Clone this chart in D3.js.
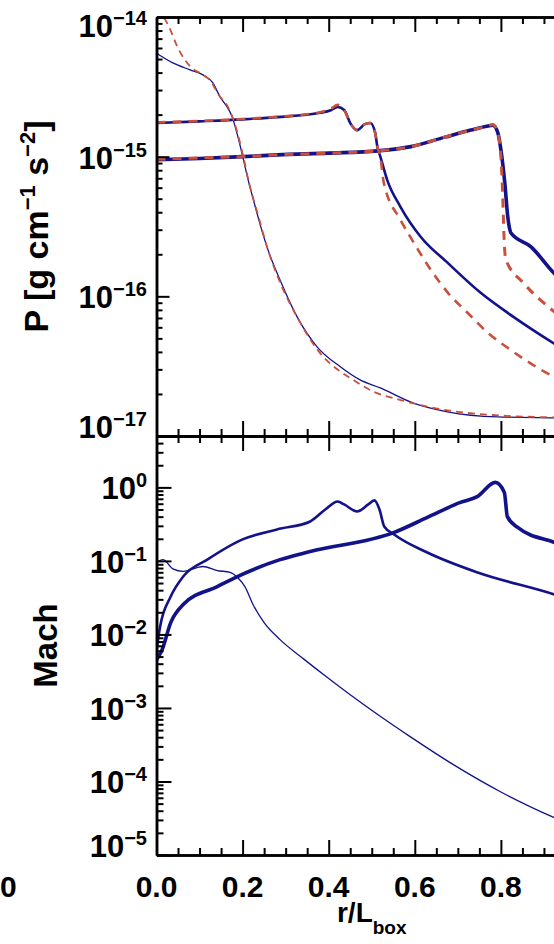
<!DOCTYPE html>
<html>
<head>
<meta charset="utf-8">
<script src="https://cdn.jsdelivr.net/npm/d3@7"></script>
<style>
  html, body { margin: 0; padding: 0; background: #fff; }
  svg { display: block; }
  text { font-family: "Liberation Sans", Arial, Helvetica, sans-serif; font-weight: bold; fill: #000; }
</style>
</head>
<body>
<svg id="chart" width="554" height="944"></svg>
<script>
// ---------------- data ----------------
// radial coordinate ticks
const xTicks = [0.0, 0.2, 0.4, 0.6, 0.8, 1.0];
const xTickLabels = ["0.0", "0.2", "0.4", "0.6", "0.8", "1.0"];
// decade exponents labelled on each panel
const pressureDecades = [-14, -15, -16, -17];
const machDecades = [0, -1, -2, -3, -4, -5];

// Pressure [g cm^-1 s^-2] — earliest snapshot (thin line)
const rP1 = [0.0, 0.038, 0.078, 0.108, 0.131, 0.148, 0.164, 0.176, 0.185, 0.194, 0.203, 0.213, 0.227, 0.241, 0.259, 0.287, 0.327, 0.373, 0.427, 0.473, 0.520, 0.597, 0.676, 0.792, 0.922, 1.0];
const pSim1 = [5.5e-15, 4.69e-15, 4.18e-15, 3.85e-15, 3.37e-15, 2.67e-15, 2.27e-15, 1.92e-15, 1.55e-15, 1.21e-15, 9.2e-16, 6.8e-16, 4.67e-16, 3.25e-16, 2.15e-16, 1.31e-16, 7.1e-17, 4.35e-17, 3.13e-17, 2.52e-17, 2.21e-17, 1.72e-17, 1.49e-17, 1.37e-17, 1.35e-17, 1.34e-17];
const rP1m = [0.0, 0.026, 0.051, 0.079, 0.105, 0.125, 0.145, 0.165, 0.185, 0.200, 0.215, 0.235, 0.260, 0.290, 0.330, 0.375, 0.430, 0.450, 0.505, 0.567, 0.630, 0.700, 0.800, 0.920, 1.0];
const pModel1 = [1.15e-14, 8.9e-15, 5.9e-15, 4.4e-15, 3.9e-15, 3.5e-15, 2.75e-15, 2.3e-15, 1.6e-15, 1.05e-15, 6.5e-16, 3.9e-16, 2.1e-16, 1.2e-16, 6.8e-17, 4.1e-17, 2.85e-17, 2.6e-17, 2.07e-17, 1.81e-17, 1.62e-17, 1.49e-17, 1.4e-17, 1.36e-17, 1.35e-17];

// Pressure — intermediate snapshot (medium line)
const rP2 = [0.0, 0.10, 0.20, 0.28, 0.38, 0.405, 0.421, 0.436, 0.450, 0.466, 0.484, 0.497, 0.508, 0.513, 0.520, 0.536, 0.567, 0.614, 0.677, 0.753, 0.830, 0.923, 1.0];
const pSim2 = [1.74e-15, 1.79e-15, 1.85e-15, 1.92e-15, 2.06e-15, 2.15e-15, 2.27e-15, 2.16e-15, 1.74e-15, 1.55e-15, 1.71e-15, 1.74e-15, 1.48e-15, 1.18e-15, 1.0e-15, 6.8e-16, 4.36e-16, 2.66e-16, 1.73e-16, 1.06e-16, 7.1e-17, 4.6e-17, 3.3e-17];
const rP2m = [0.0, 0.10, 0.20, 0.28, 0.38, 0.405, 0.421, 0.436, 0.450, 0.466, 0.484, 0.497, 0.508, 0.513, 0.520, 0.528, 0.567, 0.598, 0.637, 0.677, 0.723, 0.770, 0.823, 0.886, 1.0];
const pModel2 = [1.76e-15, 1.8e-15, 1.86e-15, 1.93e-15, 2.08e-15, 2.2e-15, 2.35e-15, 2.16e-15, 1.74e-15, 1.55e-15, 1.71e-15, 1.74e-15, 1.48e-15, 1.18e-15, 1.0e-15, 6.5e-16, 3.52e-16, 2.41e-16, 1.55e-16, 1.06e-16, 7.6e-17, 5.47e-17, 4.13e-17, 3.07e-17, 2.1e-17];

// Pressure — latest snapshot (thick line)
const rP3 = [0.0, 0.10, 0.20, 0.281, 0.40, 0.514, 0.591, 0.670, 0.730, 0.770, 0.781, 0.793, 0.800, 0.809, 0.816, 0.821, 0.823, 0.870, 0.923, 1.0];
const pSim3 = [9.5e-16, 9.7e-16, 1.0e-15, 1.03e-15, 1.06e-15, 1.1e-15, 1.18e-15, 1.38e-15, 1.55e-15, 1.66e-15, 1.68e-15, 1.48e-15, 1.12e-15, 6.5e-16, 3.7e-16, 2.98e-16, 2.85e-16, 2.26e-16, 1.47e-16, 9.3e-17];
const rP3m = [0.0, 0.10, 0.20, 0.281, 0.40, 0.514, 0.591, 0.670, 0.730, 0.770, 0.781, 0.793, 0.799, 0.804, 0.807, 0.811, 0.852, 0.899, 1.0];
const pModel3 = [9.6e-16, 9.8e-16, 1.0e-15, 1.03e-15, 1.06e-15, 1.1e-15, 1.18e-15, 1.38e-15, 1.55e-15, 1.66e-15, 1.7e-15, 1.48e-15, 1.1e-15, 5.5e-16, 2.8e-16, 1.85e-16, 1.25e-16, 9.0e-17, 5.4e-17];

// Mach number — the three snapshots
const rM1 = [0.0, 0.015, 0.038, 0.062, 0.108, 0.141, 0.171, 0.190, 0.205, 0.225, 0.250, 0.287, 0.343, 0.400, 0.450, 0.513, 0.590, 0.683, 0.800, 0.925, 1.0];
const mach1 = [0.095, 0.104, 0.078, 0.072, 0.084, 0.074, 0.070, 0.058, 0.045, 0.025, 0.0145, 0.0085, 0.00458, 0.00251, 0.00151, 8.2e-4, 4.04e-4, 1.79e-4, 7.2e-5, 3.2e-5, 2.1e-5];
const rM2 = [0.0, 0.008, 0.033, 0.062, 0.118, 0.200, 0.280, 0.357, 0.392, 0.421, 0.436, 0.466, 0.492, 0.506, 0.518, 0.529, 0.552, 0.629, 0.746, 0.925, 1.0];
const mach2 = [0.006, 0.0124, 0.0327, 0.0613, 0.104, 0.196, 0.268, 0.344, 0.50, 0.644, 0.586, 0.471, 0.586, 0.665, 0.50, 0.294, 0.229, 0.130, 0.0695, 0.0348, 0.0245];
const rM3 = [0.0, 0.013, 0.033, 0.062, 0.141, 0.183, 0.287, 0.357, 0.552, 0.629, 0.706, 0.745, 0.787, 0.808, 0.815, 0.839, 0.925, 1.0];
const mach3 = [0.0045, 0.0062, 0.0145, 0.0255, 0.0448, 0.0594, 0.104, 0.134, 0.244, 0.39, 0.625, 0.75, 1.17, 0.855, 0.40, 0.285, 0.178, 0.125];

// ---------------- layout ----------------
const X0 = 156.5, X1 = 587;
const TOP = 17, MID = 436, BOT = 855;
const W = 554;
const BLUE = "#12128a", RED = "#c9503c";

const svg = d3.select("#chart");
const x = d3.scaleLinear().domain([0, 1]).range([X0, X1]);
const yP = d3.scaleLog().domain([1e-17, 1e-14]).range([MID, TOP]);
const yM = d3.scaleLog().domain([1e-5, 5]).range([BOT, MID]);

const defs = svg.append("defs");
defs.append("clipPath").attr("id", "clipP")
  .append("rect").attr("x", X0).attr("y", TOP).attr("width", X1 - X0).attr("height", MID - TOP);
defs.append("clipPath").attr("id", "clipM")
  .append("rect").attr("x", X0).attr("y", MID).attr("width", X1 - X0).attr("height", BOT - MID);

// ---------------- curves ----------------
const pressureLines = [
  { r: rP1, v: pSim1, color: BLUE, w: 1.3 },
  { r: rP2, v: pSim2, color: BLUE, w: 2.6 },
  { r: rP3, v: pSim3, color: BLUE, w: 3.6 },
  { r: rP1m, v: pModel1, color: RED, w: 1.8, dash: "7,5" },
  { r: rP2m, v: pModel2, color: RED, w: 2.6, dash: "9,7" },
  { r: rP3m, v: pModel3, color: RED, w: 3.0, dash: "9,7" }
];
const machLines = [
  { r: rM1, v: mach1, color: BLUE, w: 1.3 },
  { r: rM2, v: mach2, color: BLUE, w: 2.6 },
  { r: rM3, v: mach3, color: BLUE, w: 3.6 }
];

function drawLines(lines, yScale, clipId) {
  const g = svg.append("g").attr("clip-path", `url(#${clipId})`);
  const gen = d3.line().x(d => x(d[0])).y(d => yScale(d[1])).curve(d3.curveMonotoneX);
  lines.forEach(s => {
    g.append("path")
      .attr("d", gen(d3.zip(s.r, s.v)))
      .attr("fill", "none")
      .attr("stroke", s.color)
      .attr("stroke-width", s.w)
      .attr("stroke-linejoin", "round")
      .attr("stroke-dasharray", s.dash || null);
  });
}
drawLines(pressureLines, yP, "clipP");
drawLines(machLines, yM, "clipM");

// ---------------- axes ----------------
function logMinor(domain) {
  const out = [];
  const lo = Math.floor(Math.log10(domain[0])), hi = Math.ceil(Math.log10(domain[1]));
  for (let e = lo; e <= hi; e++) {
    for (let k = 2; k <= 9; k++) {
      const v = k * Math.pow(10, e);
      if (v > domain[0] && v < domain[1]) out.push(v);
    }
  }
  return out;
}
const xMinor = d3.range(0.05, 1.0, 0.05).filter(v => Math.abs(v * 5 - Math.round(v * 5)) > 1e-6);

function tickAxis(axisFn, scale, values, size, translate) {
  const g = svg.append("g").attr("transform", translate)
    .call(axisFn(scale).tickValues(values).tickSize(size).tickSizeOuter(0).tickFormat(""));
  g.selectAll(".tick line").attr("stroke", "#000").attr("stroke-width", 2);
  g.select(".domain").attr("stroke", "#000").attr("stroke-width", 2.5);
  return g;
}

// horizontal axes: top edge, shared middle edge, bottom edge
tickAxis(d3.axisTop, x, xTicks, -15, `translate(0,${TOP})`);
tickAxis(d3.axisTop, x, xMinor, -7, `translate(0,${TOP})`);
tickAxis(d3.axisBottom, x, xTicks, 15, `translate(0,${MID})`);
tickAxis(d3.axisBottom, x, xMinor, 7, `translate(0,${MID})`);
tickAxis(d3.axisBottom, x, xTicks, -15, `translate(0,${MID})`);
tickAxis(d3.axisBottom, x, xMinor, -7, `translate(0,${MID})`);
tickAxis(d3.axisBottom, x, xTicks, -15, `translate(0,${BOT})`);
tickAxis(d3.axisBottom, x, xMinor, -7, `translate(0,${BOT})`);

// vertical axes
tickAxis(d3.axisLeft, yP, pressureDecades.map(e => Math.pow(10, e)), -13, `translate(${X0},0)`);
tickAxis(d3.axisLeft, yP, logMinor(yP.domain()), -6, `translate(${X0},0)`);
tickAxis(d3.axisLeft, yM, machDecades.map(e => Math.pow(10, e)), -15, `translate(${X0},0)`);
tickAxis(d3.axisLeft, yM, logMinor(yM.domain()), -7, `translate(${X0},0)`);

// ---------------- tick labels ----------------
function decadeLabels(scale, exps, top, bottom) {
  exps.forEach(e => {
    const ty = scale(Math.pow(10, e));
    const by = Math.max(top + 20, Math.min(bottom + 2, ty + 12));
    const t = svg.append("text").attr("x", 147).attr("y", by)
      .attr("text-anchor", "end").attr("font-size", 31);
    t.append("tspan").text("10");
    t.append("tspan").attr("dy", -12).attr("font-size", 20)
      .text(e < 0 ? "\u2212" + (-e) : String(e));
  });
}
decadeLabels(yP, pressureDecades, TOP, MID);
decadeLabels(yM, machDecades, MID, BOT);

// only the labels whose ticks fall inside the drawing area
const shownX = xTicks.map((v, i) => ({ v, label: xTickLabels[i] })).filter(d => x(d.v) < W);
svg.selectAll(".xlab").data(shownX).enter().append("text")
  .attr("class", "xlab")
  .attr("x", d => x(d.v)).attr("y", 897)
  .attr("text-anchor", "middle").attr("font-size", 30)
  .text(d => d.label);

// trailing digit of the neighbouring panel's last tick label at the left edge
svg.append("text").attr("x", 0).attr("y", 897).attr("text-anchor", "start")
  .attr("font-size", 30).text("0");

// ---------------- axis titles ----------------
const xt = svg.append("text").attr("x", (X0 + X1) / 2).attr("y", 922)
  .attr("text-anchor", "middle").attr("font-size", 28);
xt.append("tspan").text("r/L");
xt.append("tspan").attr("dy", 12).attr("font-size", 19).text("box");

const pt = svg.append("text")
  .attr("transform", `translate(48,${(TOP + MID) / 2}) rotate(-90)`)
  .attr("text-anchor", "middle").attr("font-size", 34);
pt.append("tspan").text("P [g cm");
pt.append("tspan").attr("dy", -13).attr("font-size", 22).text("\u22121");
pt.append("tspan").attr("dy", 13).text(" s");
pt.append("tspan").attr("dy", -13).attr("font-size", 22).text("\u22122");
pt.append("tspan").attr("dy", 13).text("]");

svg.append("text")
  .attr("transform", `translate(57,${(MID + BOT) / 2}) rotate(-90)`)
  .attr("text-anchor", "middle").attr("font-size", 33).text("Mach");
</script>
</body>
</html>
